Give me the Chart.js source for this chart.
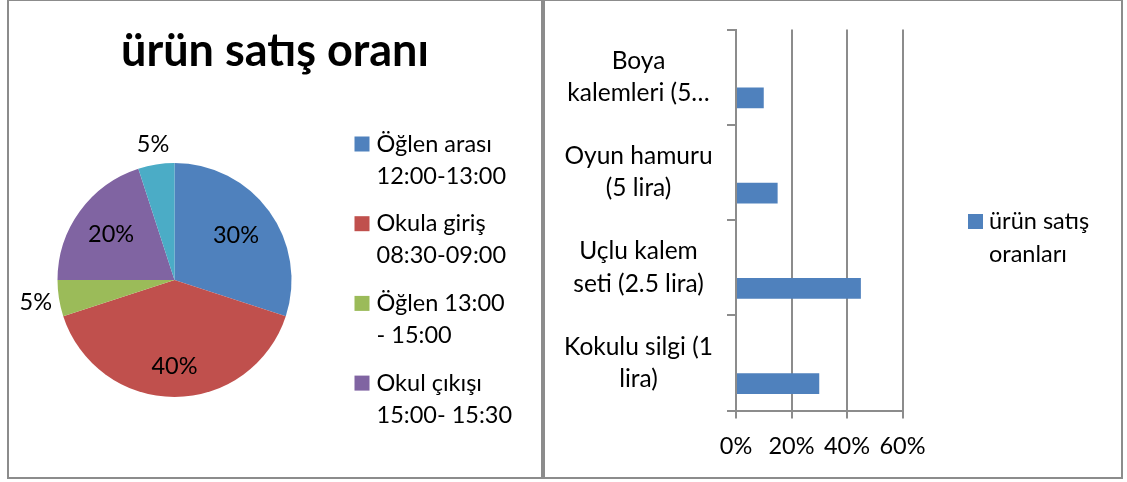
<!DOCTYPE html>
<html><head><meta charset="utf-8">
<script src="https://cdn.jsdelivr.net/npm/chart.js@4.4.1/dist/chart.umd.min.js"></script>
<style>
html,body{margin:0;padding:0;background:#fff;width:1127px;height:482px;overflow:hidden;position:relative;}
.panel{position:absolute;box-sizing:border-box;border:2px solid #8c8c8c;background:#fff;}
#p1{left:7px;top:-1px;width:536px;height:480px;}
#p2{left:543px;top:-1px;width:580px;height:480px;}
canvas{position:absolute;}
#c1{left:9px;top:1px;}
#c2{left:545px;top:1px;}
</style></head><body>
<div class="panel" id="p1"></div><div class="panel" id="p2"></div>
<canvas id="c1" width="532" height="476"></canvas>
<canvas id="c2" width="576" height="476"></canvas>
<script>
// ---- data ----
const pieTitle = 'ürün satış oranı';
const pieLabels = [['Öğlen arası','12:00-13:00'],['Okula giriş','08:30-09:00'],['Öğlen 13:00','- 15:00'],['Okul çıkışı','15:00- 15:30'],['']];
const pieValues = [30, 40, 5, 20, 5];
const pieColors = ['#4F81BD','#C0504D','#9BBB59','#8064A2','#4BACC6'];
const pieLegendCount = 4;

const barCategories = [['Boya','kalemleri (5…'],['Oyun hamuru','(5 lira)'],['Uçlu kalem','seti (2.5 lira)'],['Kokulu silgi (1','lira)']];
const barSeriesName = ['ürün satış','oranları'];
const barValues = [10, 15, 45, 30];
const emptySeries = [null, null, null, null];
const barColor = '#4F81BD';
const xTickValues = [0, 20, 40, 60];

const FONT = 'Lato';
const FS = 23.5;
const FS_Y = 24.5;
const TITLE_FS = 45;

const legendDraw = {
  id: 'legendDraw',
  afterDraw(chart, args, o) {
    if (!o || !o.items) return;
    const ctx = chart.ctx; ctx.save();
    ctx.font = `${o.size}px ${FONT}`; ctx.textAlign = 'left'; ctx.textBaseline = 'middle';
    o.items.forEach((it, i) => {
      const y0 = o.y + i * o.itemGap;
      ctx.fillStyle = it.color;
      ctx.fillRect(o.boxX, y0 - o.box / 2, o.box, o.box);
      ctx.fillStyle = '#000';
      it.lines.forEach((ln, j) => ctx.fillText(ln, o.textX, y0 + j * o.lineGap));
    });
    ctx.restore();
  }
};

const pieDecor = {
  id: 'pieDecor',
  afterDraw(chart, args, o) {
    const ctx = chart.ctx; ctx.save();
    ctx.fillStyle = '#000'; ctx.textAlign = 'center';
    ctx.font = `bold ${o.titleSize}px ${FONT}`; ctx.textBaseline = 'alphabetic';
    ctx.fillText(pieTitle, chart.width / 2, o.titleBaseline);
    ctx.font = `${FS}px ${FONT}`; ctx.textBaseline = 'middle';
    const meta = chart.getDatasetMeta(0);
    const ds = chart.data.datasets[0].data;
    const total = ds.reduce((a, b) => a + b, 0);
    meta.data.forEach((arc, i) => {
      const p = arc.getProps(['x','y','startAngle','endAngle','outerRadius'], true);
      const mid = (p.startAngle + p.endAngle) / 2;
      const f = o.labelRadius[i];
      const txt = Math.round(ds[i] / total * 100) + '%';
      ctx.fillText(txt, p.x + Math.cos(mid) * p.outerRadius * f, p.y + Math.sin(mid) * p.outerRadius * f);
    });
    ctx.restore();
  }
};

function draw() {
  new Chart(document.getElementById('c1'), {
    type: 'pie',
    data: { labels: pieLabels, datasets: [{ data: pieValues, backgroundColor: pieColors, borderWidth: 0 }] },
    options: {
      responsive: false, animation: false,
      layout: { padding: { left: 48.5, right: 249.5, top: 162, bottom: 80 } },
      plugins: {
        legend: { display: false }, tooltip: { enabled: false }, title: { display: false },
        pieDecor: { titleSize: TITLE_FS, titleBaseline: 65, labelRadius: [0.65, 0.74, 1.2, 0.67, 1.17] },
        legendDraw: {
          items: pieLabels.slice(0, pieLegendCount).map((l, i) => ({ lines: l, color: pieColors[i] })),
          size: FS, boxX: 345.5, box: 15, textX: 367.5, y: 143, itemGap: 79.7, lineGap: 32
        }
      }
    },
    plugins: [pieDecor, legendDraw]
  });

  new Chart(document.getElementById('c2'), {
    type: 'bar',
    data: {
      labels: barCategories,
      datasets: [
        { label: '', data: emptySeries, backgroundColor: 'rgba(0,0,0,0)' },
        { label: barSeriesName.join(' '), data: barValues, backgroundColor: barColor, borderWidth: 0 }
      ]
    },
    options: {
      indexAxis: 'y', responsive: false, animation: false,
      categoryPercentage: 0.87, barPercentage: 0.5,
      layout: { padding: { left: 0, right: 218.5, top: 28.5, bottom: 0 } },
      plugins: {
        legend: { display: false }, tooltip: { enabled: false },
        legendDraw: {
          items: [{ lines: barSeriesName, color: barColor }],
          size: FS, boxX: 423, box: 15, textX: 444, y: 220.5, itemGap: 0, lineGap: 33
        }
      },
      scales: {
        x: {
          type: 'linear', min: xTickValues[0], max: xTickValues[xTickValues.length - 1],
          afterBuildTicks(s) { s.ticks = xTickValues.map(v => ({ value: v })); },
          ticks: { callback: v => v + '%', color: '#000', font: { family: FONT, size: FS }, padding: 14, maxRotation: 0 },
          grid: { color: '#8c8c8c', lineWidth: 2, tickLength: 8 },
          border: { color: '#8c8c8c', width: 2 },
          afterFit(s) { s.height = 66.5; s.paddingLeft = 0; s.paddingRight = 0; }
        },
        y: {
          ticks: { color: '#000', font: { family: FONT, size: FS_Y, lineHeight: 1.31 }, crossAlign: 'center', padding: 14 },
          grid: { display: true, drawOnChartArea: false, color: '#8c8c8c', lineWidth: 2, tickLength: 9, offset: true },
          border: { color: '#8c8c8c', width: 2 },
          afterFit(s) { s.width = 191; s.paddingTop = 0; s.paddingBottom = 0; }
        }
      }
    },
    plugins: [legendDraw]
  });
}

const fl = document.fonts ? Promise.all([
  document.fonts.load(`${FS}px ${FONT}`), document.fonts.load(`bold ${TITLE_FS}px ${FONT}`)
]).catch(() => {}) : Promise.resolve();
let done = false;
function go() { if (!done) { done = true; draw(); } }
fl.then(go); setTimeout(go, 1500);
</script>
</body></html>
